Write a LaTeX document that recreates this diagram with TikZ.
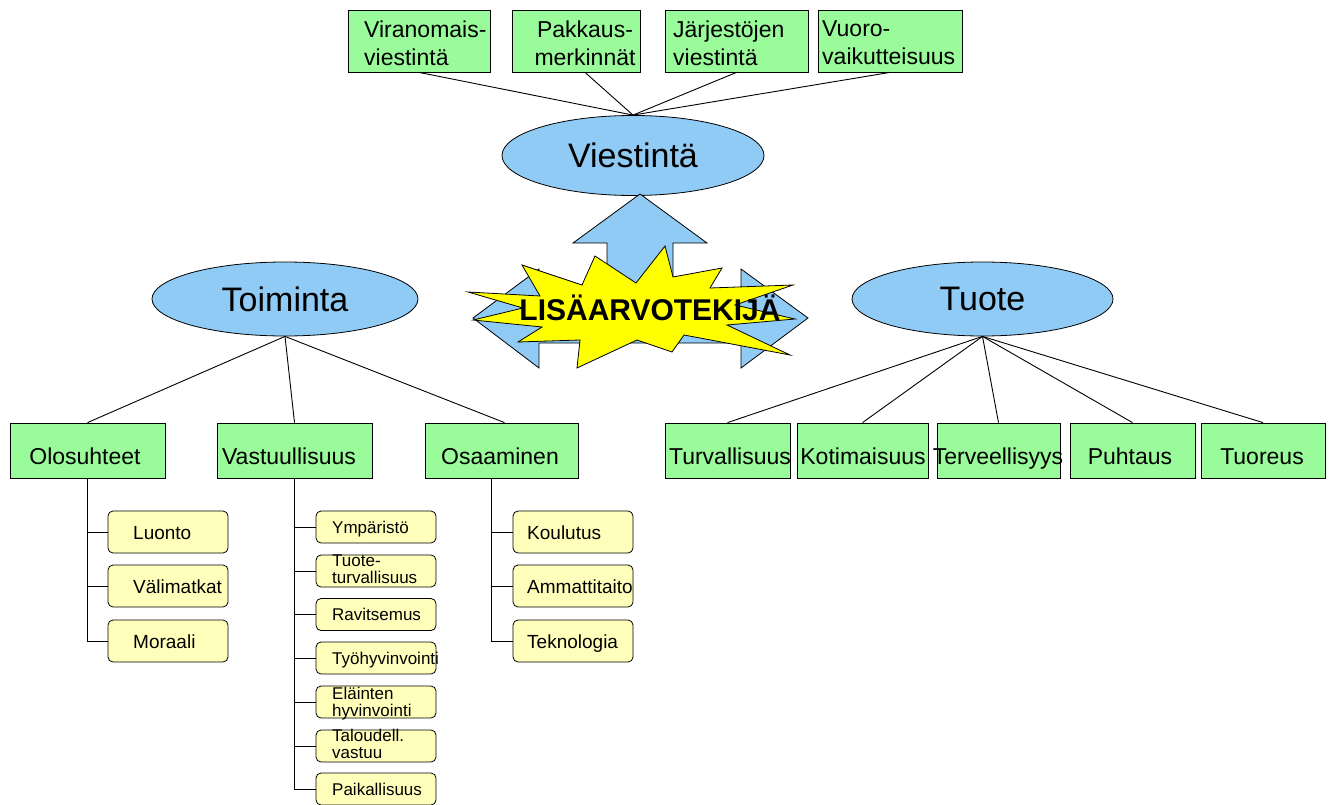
\documentclass[tikz,border=0pt]{standalone}
\usepackage{fontspec}
\setmainfont{Liberation Sans}
\usetikzlibrary{calc,shapes.geometric}
\definecolor{boxgreen}{HTML}{99FB99}
\definecolor{ellblue}{HTML}{8FCBF5}
\definecolor{subyellow}{HTML}{FFFFBB}
\definecolor{staryellow}{HTML}{FFFF00}
\newcommand{\fsz}[2]{\fontsize{#1}{#2}\selectfont}
\begin{document}
\begin{tikzpicture}[x=1pt,y=-1pt,
  gbox/.style={draw=black,fill=boxgreen,line width=0.8pt,inner sep=0pt},
  ell/.style={draw=black,fill=ellblue,ellipse,line width=0.8pt,inner sep=0pt,font=\fsz{34}{40}},
  ysub/.style={draw=black,fill=subyellow,rounded corners=5pt,line width=0.8pt,inner sep=0pt,minimum width=120pt},
  lbl/.style={inner sep=0pt,font=\fsz{23}{28}},
  lblm/.style={inner sep=0pt,font=\fsz{19}{22},anchor=base west},
  lbls/.style={inner sep=0pt,font=\fsz{17}{17},anchor=base west,align=left},
  link/.style={draw=black,line width=0.9pt}
]
\useasboundingbox (0,0) rectangle (1332,805);

% ---- top boxes
\node[gbox,minimum width=142pt,minimum height=62pt] (vir) at (419,41) {};
\node[gbox,minimum width=128pt,minimum height=62pt] (pak) at (576,41) {};
\node[gbox,minimum width=143pt,minimum height=62pt] (jar) at (736.5,41) {};
\node[gbox,minimum width=144pt,minimum height=62pt] (vuo) at (890,41) {};
\node[lbl,align=left,anchor=west] (virt) at (364,43) {Viranomais-\\viestintä};
\node[lbl,align=center] (pakt) at (585,43) {Pakkaus-\\merkinnät};
\node[lbl,align=left,anchor=west] (jart) at (673,43) {Järjestöjen\\viestintä};
\node[lbl,align=left,anchor=west] (vuot) at (822,43) {Vuoro-\\vaikutteisuus};

% ---- ellipses
\node[ell,minimum width=262pt,minimum height=80pt] (vie) at (633,155.5) {Viestintä};
\node[ell,minimum width=266pt,minimum height=74pt] (toi) at (285,299) {Toiminta};
\node[ell,minimum width=261pt,minimum height=74pt] (tuote) at (982.5,299) {Tuote};

\draw[link] (vie.north) -- (vir.south);
\draw[link] (vie.north) -- ($(pak.south)+(9,0)$);
\draw[link] (vie.north) -- (jar.south);
\draw[link] (vie.north) -- (vuo.south);

% ---- level 2 boxes
\node[gbox,minimum width=155pt,minimum height=55pt] (olo) at (87.5,450.5) {};
\node[gbox,minimum width=155pt,minimum height=55pt] (vas) at (294.5,450.5) {};
\node[gbox,minimum width=153pt,minimum height=55pt] (osa) at (501.5,450.5) {};
\node[gbox,minimum width=125pt,minimum height=55pt] (turv) at (727.5,450.5) {};
\node[gbox,minimum width=131pt,minimum height=55pt] (koti) at (862.5,450.5) {};
\node[gbox,minimum width=123pt,minimum height=55pt] (terv) at (998.5,450.5) {};
\node[gbox,minimum width=125pt,minimum height=55pt] (puh) at (1132.5,450.5) {};
\node[gbox,minimum width=124pt,minimum height=55pt] (tuor) at (1263,450.5) {};
\node[lbl,anchor=base] (olot) at (85,464) {Olosuhteet};
\node[lbl,anchor=base] (vast) at (289,464) {Vastuullisuus};
\node[lbl,anchor=base] (osat) at (500,464) {Osaaminen};
\node[lbl,anchor=base] (turvt) at (730,464) {Turvallisuus};
\node[lbl,anchor=base] (kotit) at (863,464) {Kotimaisuus};
\node[lbl,anchor=base] (tervt) at (998,464) {Terveellisyys};
\node[lbl,anchor=base] (puht) at (1130,464) {Puhtaus};
\node[lbl,anchor=base] (tuort) at (1262,464) {Tuoreus};

\draw[link] (toi.south) -- (olo.north);
\draw[link] (toi.south) -- (vas.north);
\draw[link] (toi.south) -- ($(osa.north)+(3,0)$);
\draw[link] (tuote.south) -- (turv.north);
\draw[link] (tuote.south) -- (koti.north);
\draw[link] (tuote.south) -- (terv.north);
\draw[link] (tuote.south) -- (puh.north);
\draw[link] (tuote.south) -- (tuor.north);

% ---- Olosuhteet sub items
\node[ysub,minimum height=42pt] (luo) at (168,532) {};
\node[ysub,minimum height=42pt] (val) at (168,586) {};
\node[ysub,minimum height=42pt] (mor) at (168,641) {};
\node[lblm] (luot) at (133,539) {Luonto};
\node[lblm] (valt) at (133,593) {Välimatkat};
\node[lblm] (mort) at (133,648) {Moraali};
\draw[link] (olo.south) |- (luo.west);
\draw[link] (olo.south) |- (val.west);
\draw[link] (olo.south) |- (mor.west);

% ---- Vastuullisuus sub items
\node[ysub,minimum height=32pt] (ymp) at (376,527) {};
\node[ysub,minimum height=32pt] (ttu) at (376,571) {};
\node[ysub,minimum height=32pt] (rav) at (376,614.5) {};
\node[ysub,minimum height=32pt] (tyo) at (376,658) {};
\node[ysub,minimum height=32pt] (ela) at (376,702) {};
\node[ysub,minimum height=32pt] (tal) at (376,746) {};
\node[ysub,minimum height=32pt] (pai) at (376,789) {};
\node[lbls] (ympt) at (332,533) {Ympäristö};
\node[lbls] (ttut) at (332,583) {Tuote-\\turvallisuus};
\node[lbls] (ravt) at (332,620.5) {Ravitsemus};
\node[lbls] (tyot) at (332,664) {Työhyvinvointi};
\node[lbls] (elat) at (332,716) {Eläinten\\hyvinvointi};
\node[lbls] (talt) at (332,758) {Taloudell.\\vastuu};
\node[lbls] (pait) at (332,795) {Paikallisuus};
\draw[link] (vas.south) |- (ymp.west);
\draw[link] (vas.south) |- (ttu.west);
\draw[link] (vas.south) |- (rav.west);
\draw[link] (vas.south) |- (tyo.west);
\draw[link] (vas.south) |- (ela.west);
\draw[link] (vas.south) |- (tal.west);
\draw[link] (vas.south) |- (pai.west);

% ---- Osaaminen sub items
\node[ysub,minimum height=42pt] (kou) at (573,532) {};
\node[ysub,minimum height=42pt] (amm) at (573,586) {};
\node[ysub,minimum height=42pt] (tek) at (573,641) {};
\node[lblm] (kout) at (527,539) {Koulutus};
\node[lblm] (ammt) at (527,593) {Ammattitaito};
\node[lblm] (tekt) at (527,648) {Teknologia};
\coordinate (osab) at (491,478);
\draw[link] (osab) |- (kou.west);
\draw[link] (osab) |- (amm.west);
\draw[link] (osab) |- (tek.west);

% ---- three-way arrow
\draw[fill=ellblue,line width=0.8pt,line join=miter]
  (640,194) -- (707,243) -- (673,243) -- (673,293) -- (741,293) -- (741,269)
  -- (808,318) -- (741,368) -- (741,343) -- (539,343) -- (539,368) -- (473,318)
  -- (539,269) -- (539,293) -- (607,293) -- (607,243) -- (573,243) -- cycle;

% ---- explosion star
\draw[fill=staryellow,line width=0.8pt,line join=miter]
  (468,292) -- (540,296) -- (522,265) -- (582,285) -- (595,256) -- (636,283)
  -- (665,246) -- (673,277) -- (722,268) -- (710,288) -- (793,285) -- (735,305)
  -- (795,319) -- (727,325) -- (790,355) -- (684,335) -- (672,352) -- (637,340)
  -- (577,368) -- (580,340) -- (518,342) -- (542,327) -- (473,320) -- (523,308) -- cycle;
\node[inner sep=0pt,anchor=base,font=\fsz{30}{34}\bfseries] (lisa) at (650,320) {LISÄARVOTEKIJÄ};
\end{tikzpicture}
\end{document}
